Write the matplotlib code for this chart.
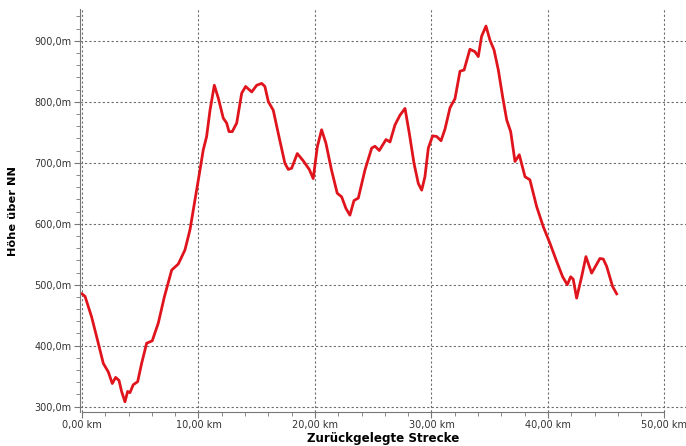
import matplotlib
matplotlib.use('Agg')
import matplotlib.pyplot as plt
from matplotlib.ticker import MultipleLocator, FuncFormatter

# Strecke in km, Hoehe in m
strecke_km = [0.0, 0.26, 0.83, 1.4, 1.83, 2.26, 2.6, 2.89, 3.18, 3.4, 3.69, 3.92, 4.12,
              4.4, 4.78, 5.12, 5.55, 6.03, 6.55, 7.07, 7.7, 8.27, 8.84, 9.27, 9.7,
              10.13, 10.41, 10.7, 10.99, 11.36, 11.7, 12.13, 12.42, 12.62, 12.9, 13.28,
              13.71, 14.05, 14.57, 15.0, 15.43, 15.7, 16.0, 16.42, 16.85, 17.42, 17.71,
              18.0, 18.48, 19.0, 19.51, 19.85, 20.2, 20.57, 20.94, 21.42, 21.91, 22.29,
              22.66, 23.0, 23.35, 23.72, 24.29, 24.87, 25.15, 25.52, 26.1, 26.44, 26.87,
              27.3, 27.73, 28.1, 28.5, 28.87, 29.16, 29.44, 29.73, 30.1, 30.45, 30.82,
              31.16, 31.59, 32.02, 32.45, 32.8, 33.3, 33.73, 34.02, 34.3, 34.68, 35.02,
              35.37, 35.74, 36.11, 36.46, 36.8, 37.17, 37.54, 38.03, 38.45, 39.03, 39.6,
              40.17, 40.75, 41.26, 41.66, 41.95, 42.17, 42.46, 42.89, 43.26, 43.75, 44.46,
              44.75, 45.04, 45.55, 45.9]
hoehe_m = [485, 481, 447, 404, 371, 357, 338, 348, 343, 325, 308, 325, 323,
           336, 341, 371, 404, 408, 437, 480, 524, 534, 557, 590, 639,
           688, 721, 743, 786, 827, 806, 773, 765, 751, 751, 765,
           814, 825, 816, 827, 830, 825, 800, 786, 748, 699, 689,
           691, 715, 703, 689, 674, 726, 754, 732, 688, 650, 644,
           625, 614, 638, 642, 688, 724, 727, 720, 738, 734, 762,
           778, 789, 748, 699, 666, 655, 677, 724, 744, 743, 736,
           755, 790, 805, 850, 852, 886, 882, 874, 907, 924, 901,
           885, 852, 808, 770, 751, 702, 713, 677, 672, 628, 595,
           568, 538, 513, 500, 513, 509, 478, 513, 546, 519, 543,
           542, 530, 497, 485]

x_ticks = [0, 10, 20, 30, 40, 50]
y_ticks = [300, 400, 500, 600, 700, 800, 900]

fig = plt.figure(figsize=(6.86, 4.46), dpi=100)
ax = fig.add_axes([80 / 686, 34 / 446, 606 / 686, 403 / 446])

ax.plot(strecke_km, hoehe_m, color='#e0141c', linewidth=2.0, solid_joinstyle='round')

ax.set_xlim(-0.17, 51.85)
ax.set_ylim(291.3, 952)
ax.set_xticks(x_ticks)
ax.set_yticks(y_ticks)
ax.xaxis.set_minor_locator(MultipleLocator(2))
ax.yaxis.set_minor_locator(MultipleLocator(20))
ax.xaxis.set_major_formatter(FuncFormatter(lambda v, p: '{:.2f} km'.format(v).replace('.', ',')))
ax.yaxis.set_major_formatter(FuncFormatter(lambda v, p: '{:.1f}m'.format(v).replace('.', ',')))

ax.grid(True, which='major', color='#6e6e6e', linestyle=(0, (2, 2)), linewidth=0.8)

for s in ['top', 'right']:
    ax.spines[s].set_visible(False)
ax.spines['bottom'].set_bounds(0, 50)
ax.spines['left'].set_color('#777777')
ax.spines['bottom'].set_color('#777777')

ax.tick_params(which='major', length=4, color='#777777', labelsize=7, labelcolor='#333333', pad=2)
ax.tick_params(which='minor', length=3, color='#777777')

ax.set_xlabel('Zurückgelegte Strecke', fontsize=8.6, fontweight='bold', labelpad=1)
ax.set_ylabel('Höhe über NN', fontsize=8.2, fontweight='bold', labelpad=12)

plt.savefig('out.png', dpi=100)
